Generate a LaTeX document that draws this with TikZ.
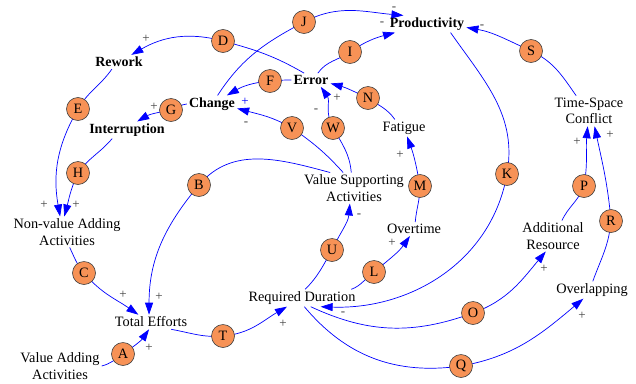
\documentclass[tikz,border=0pt]{standalone}
\usepackage{fontspec}
\setmainfont{Liberation Serif}
\usetikzlibrary{arrows.meta,backgrounds}
\definecolor{hfill}{RGB}{247,146,86}
\definecolor{lnk}{RGB}{0,0,255}
\definecolor{pol}{RGB}{64,64,64}
\tikzset{
 var/.style={font=\fontsize{14.3}{16.5}\selectfont, align=center, inner sep=2pt},
 bvar/.style={font=\fontsize{14}{16}\selectfont\bfseries, align=center, inner sep=2pt},
 hd/.style={circle, draw=black!75, fill=hfill, minimum size=23pt, inner sep=0pt, font=\fontsize{14.3}{16}\selectfont, line width=0.6pt},
 lk/.style={draw=lnk, line width=0.7pt, -{Triangle[length=12pt,width=8pt]}},
 pl/.style={text=pol, font=\fontsize{13}{13}\selectfont, inner sep=0pt},
}
\begin{document}
\begin{tikzpicture}[x=1pt,y=1pt]
\useasboundingbox (0,0) rectangle (636,-383);
% variables
\node[bvar] (RW)  at (119,-62) {Rework};
\node[bvar] (INT) at (127,-130) {Interruption};
\node[bvar] (CH)  at (212,-104) {Change};
\node[bvar] (ERR) at (311,-80) {Error};
\node[bvar] (PR)  at (427,-24) {Productivity};
\node[var]  (FA)  at (404,-128) {Fatigue};
\node[var]  (TSC) at (589,-111) {Time-Space\\Conflict};
\node[var]  (VSA) at (354,-188) {Value Supporting\\Activities};
\node[var]  (NVA) at (67,-232) {Non-value Adding\\Activities};
\node[var]  (OT)  at (414,-229) {Overtime};
\node[var]  (AR)  at (553,-236) {Additional\\Resource};
\node[var]  (OL)  at (592,-290) {Overlapping};
\node[var]  (RD)  at (302,-298) {Required Duration};
\node[var]  (TE)  at (151,-322) {Total Efforts};
\node[var]  (VAA) at (60,-366) {Value Adding\\Activities};
% handles
\node[hd] (A) at (123,-354) {A};
\node[hd] (B) at (199,-185) {B};
\node[hd] (C) at (84,-273) {C};
\node[hd] (D) at (223,-41) {D};
\node[hd] (E) at (78,-109) {E};
\node[hd] (F) at (270,-81) {F};
\node[hd] (G) at (171,-110) {G};
\node[hd] (H) at (78,-173) {H};
\node[hd] (I) at (350,-52) {I};
\node[hd] (J) at (304,-22) {J};
\node[hd] (K) at (507,-174) {K};
\node[hd] (L) at (374,-272) {L};
\node[hd] (M) at (420,-186) {M};
\node[hd] (N) at (368,-98) {N};
\node[hd] (O) at (473,-313) {O};
\node[hd] (P) at (584,-186) {P};
\node[hd] (Q) at (461,-366) {Q};
\node[hd] (R) at (611,-221) {R};
\node[hd] (S) at (531,-51) {S};
\node[hd] (T) at (223,-336) {T};
\node[hd] (U) at (332,-250) {U};
\node[hd] (V) at (292,-128) {V};
\node[hd] (W) at (333,-128) {W};
% links
\begin{scope}[on background layer]
\draw[lk] (VAA.east) to[out=15,in=-145] (A.center) to[out=35,in=-125] (TE.-105);
\draw[lk] (VSA.147) to[out=165,in=50] (B.center) to[out=-130,in=90] (TE.105);
\draw[lk] (NVA.-80) to[out=-65,in=130] (C.center) to[out=-50,in=145] (TE.150);
\draw[lk] (ERR.135) to[out=150,in=-15] (D.center) to[out=165,in=30] (RW.30);
\draw[lk] (RW.-135) to[out=-125,in=60] (E.center) to[out=-120,in=100] (NVA.114);
\draw[lk] (ERR.west) to[out=180,in=5] (F.center) to[out=185,in=30] (CH.30);
\draw[lk] (CH.west) to[out=180,in=5] (G.center) to[out=190,in=30] (INT.40);
\draw[lk] (INT.-150) to[out=-130,in=55] (H.center) to[out=-115,in=75] (NVA.100);
\draw[lk] (ERR.45) to[out=55,in=-145] (I.center) to[out=35,in=-165] (PR.-165);
\draw[lk] (CH.57) to[out=57,in=-152] (J.center) to[out=28,in=175] (PR.160);
\draw[lk] (PR.-20) to[out=-55,in=80] (K.center) to[out=-100,in=-2] (RD.-25);
\draw[lk] (RD.10) to[out=20,in=-145] (L.center) to[out=40,in=-125] (OT.-120);
\draw[lk] (OT.80) to[out=85,in=-90] (M.center) to[out=100,in=-70] (FA.-70);
\draw[lk] (FA.137) to[out=125,in=-35] (N.center) to[out=155,in=-15] (ERR.-10);
\draw[lk] (RD.-45) to[out=-25,in=200] (O.center) to[out=20,in=-130] (AR.-115);
\draw[lk] (AR.60) to[out=65,in=-110] (P.center) to[out=80,in=-95] (TSC.-95);
\draw[lk] (RD.-75) to[out=-50,in=188] (Q.center) to[out=10,in=-140] (OL.-135);
\draw[lk] (OL.85) to[out=70,in=-95] (R.center) to[out=95,in=-78] (TSC.-70);
\draw[lk] (TSC.130) to[out=125,in=-25] (S.center) to[out=155,in=-10] (PR.-5);
\draw[lk] (TE.-20) to[out=-10,in=185] (T.center) to[out=5,in=-150] (RD.-150);
\draw[lk] (RD.70) to[out=45,in=-120] (U.center) to[out=65,in=-95] (VSA.-105);
\draw[lk] (VSA.125) to[out=132,in=-35] (V.center) to[out=150,in=-15] (CH.-10);
\draw[lk] (VSA.100) to[out=95,in=-60] (W.center) to[out=120,in=-55] (ERR.-35);
\end{scope}
% polarities
\node[pl] (pA) at (149,-348) {+};
\node[pl] (pB) at (159,-297) {+};
\node[pl] (pC) at (123,-295) {+};
\node[pl] (pT) at (283,-324) {+};
\node[pl] (pE) at (44,-205) {+};
\node[pl] (pH) at (76,-205) {+};
\node[pl] (pD) at (146,-39) {+};
\node[pl] (pG) at (154,-107) {+};
\node[pl,text=lnk] (pF) at (245,-102) {+};
\node[pl] (pV) at (246,-124) {-};
\node[pl] (pW) at (316,-111) {-};
\node[pl] (pN) at (337,-98) {+};
\node[pl] (pJ) at (394,-9) {-};
\node[pl] (pI) at (382,-24) {-};
\node[pl] (pS) at (482,-27) {-};
\node[pl] (pM) at (400,-155) {+};
\node[pl] (pP) at (577,-142) {+};
\node[pl] (pR) at (610,-135) {+};
\node[pl] (pU) at (359,-216) {-};
\node[pl] (pL) at (392,-243) {+};
\node[pl] (pK) at (343,-314) {-};
\node[pl] (pO) at (544,-269) {+};
\node[pl] (pQ) at (582,-316) {+};
\end{tikzpicture}
\end{document}
